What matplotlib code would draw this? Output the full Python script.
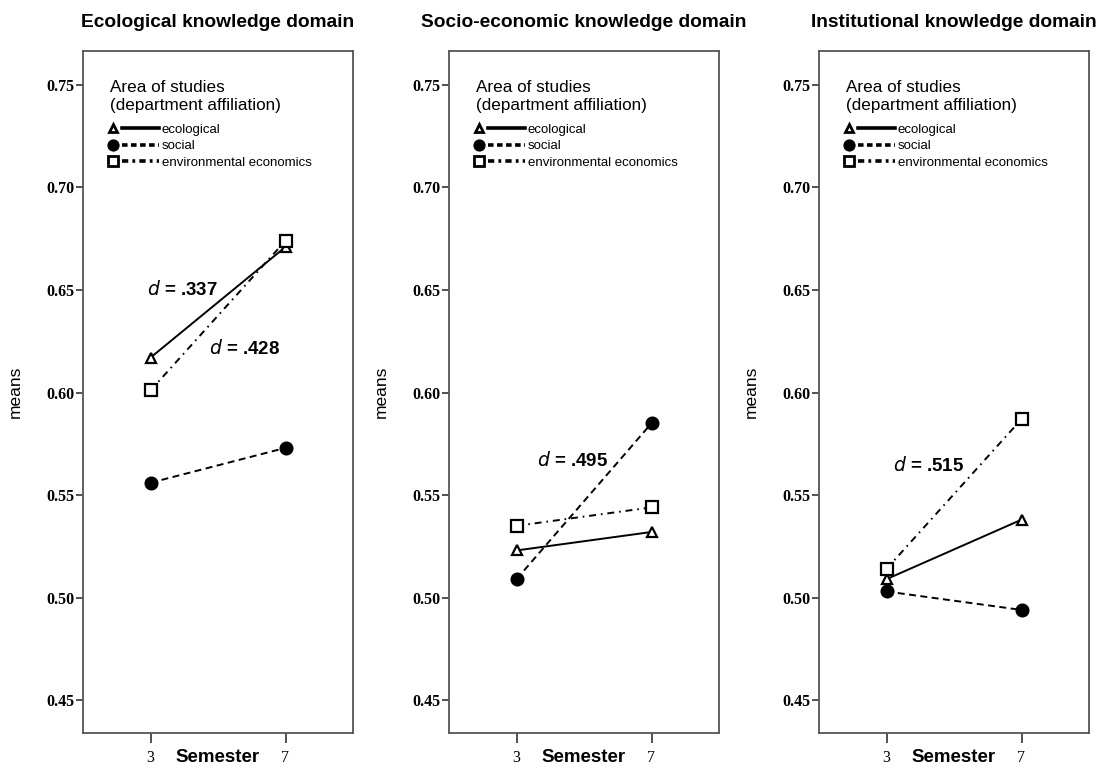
import matplotlib
matplotlib.use("Agg")
import matplotlib.pyplot as plt
from matplotlib.lines import Line2D
from matplotlib.legend_handler import HandlerBase

plt.rcParams['font.family'] = ['Liberation Sans', 'DejaVu Sans']
plt.rcParams['lines.scale_dashes'] = False

# Datos (medias por semestre)
semestres = [3, 7]
titulos = ['Ecological knowledge domain', 'Socio-economic knowledge domain',
           'Institutional knowledge domain']
grupos = ['ecological', 'social', 'environmental economics']

ecologico = [[0.617, 0.671], [0.523, 0.532], [0.509, 0.538]]
social = [[0.556, 0.573], [0.509, 0.585], [0.503, 0.494]]
economia = [[0.601, 0.674], [0.535, 0.544], [0.514, 0.587]]

# textos de tamaño del efecto: (panel, texto, x, y)
efectos = [(0, '.337', 2.9, 0.650), (0, '.428', 4.72, 0.6215),
           (1, '.495', 3.62, 0.567), (2, '.515', 3.2, 0.5645)]

yticks = [0.45, 0.50, 0.55, 0.60, 0.65, 0.70, 0.75]

estilos = [
    dict(marker='^', linestyle='-', ms=7, mfc='white'),
    dict(marker='o', linestyle=(0, (5, 3.2)), ms=8.5, mfc='black'),
    dict(marker='s', linestyle=(0, (5, 3.5, 1.2, 3.5)), ms=8, mfc='white'),
]


class MarcadorLinea(HandlerBase):
    # marcador a la izquierda, línea a la derecha (estilo SPSS)
    def create_artists(self, legend, orig, xd, yd, width, height, fontsize, trans):
        y = height / 2 - yd
        m = Line2D([-xd + 4], [y], marker=orig.get_marker(), ms=orig.get_markersize() * 0.85,
                   mfc=orig.get_markerfacecolor(), mec='black', mew=2.0, linestyle='none')
        l = Line2D([-xd + 11, -xd + width], [y, y], color='black', lw=2.6,
                   linestyle=orig.get_linestyle())
        if orig.get_linestyle() == '--':
            l.set_dashes((4, 2.5))
        elif orig.get_linestyle() == '-.':
            l.set_dashes((4.5, 3, 2, 3))
        for a in (m, l):
            a.set_transform(trans)
        return [m, l]


fig = plt.figure(figsize=(11.02, 7.71), dpi=100)
lefts = [83, 449, 819]
series = [ecologico, social, economia]

for i in range(3):
    ax = fig.add_axes([lefts[i] / 1102, 38 / 771, 270 / 1102, 682 / 771])
    for g in range(3):
        ax.plot(semestres, series[g][i], color='black', lw=1.4, mec='black',
                mew=1.6, **estilos[g])
    ax.set_xlim(1, 9)
    ax.set_ylim(0.434, 0.7665)
    ax.set_xticks(semestres)
    ax.set_yticks(yticks)
    ax.set_yticklabels(['%.2f' % v for v in yticks], fontweight='bold', fontsize=11.5,
                       family='Liberation Serif')
    ax.set_xticklabels([str(s) for s in semestres], fontsize=11.5, family='Liberation Serif')
    ax.tick_params(axis='y', length=5, width=1.2, color='#333333', pad=1)
    ax.tick_params(axis='x', length=7, width=1.2, color='#333333', pad=5)
    for s in ax.spines.values():
        s.set_color('#555555')
        s.set_linewidth(1.3)
    ax.set_title(titulos[i], fontsize=13.8, fontweight='bold', pad=17)
    ax.set_ylabel('means', fontsize=12.5, labelpad=17)
    ax.text(0.5, -0.036, 'Semester', transform=ax.transAxes, ha='center', va='center',
            fontsize=13.5, fontweight='bold')

    # título de la leyenda
    ax.text(0.1, 0.958, 'Area of studies\n(department affiliation)', transform=ax.transAxes,
            ha='left', va='top', fontsize=12.3, linespacing=1.25)
    handles = [Line2D([], [], marker='^', linestyle='-', ms=7, mfc='white'),
               Line2D([], [], marker='o', linestyle='--', ms=8, mfc='black'),
               Line2D([], [], marker='s', linestyle='-.', ms=8, mfc='white')]
    ax.legend(handles, grupos, loc='upper left', bbox_to_anchor=(0.07, 0.901),
              frameon=False, fontsize=9.5, handlelength=3.9,
              handletextpad=0.25, labelspacing=0.32, borderaxespad=0,
              handler_map={Line2D: MarcadorLinea()})

    for p, txt, x, y in efectos:
        if p == i:
            ax.text(x, y, r'$\bf{\it{d}}$ = ' + txt, fontsize=13.5, fontweight='bold',
                    ha='left', va='center')

fig.savefig('out.png', dpi=100)
